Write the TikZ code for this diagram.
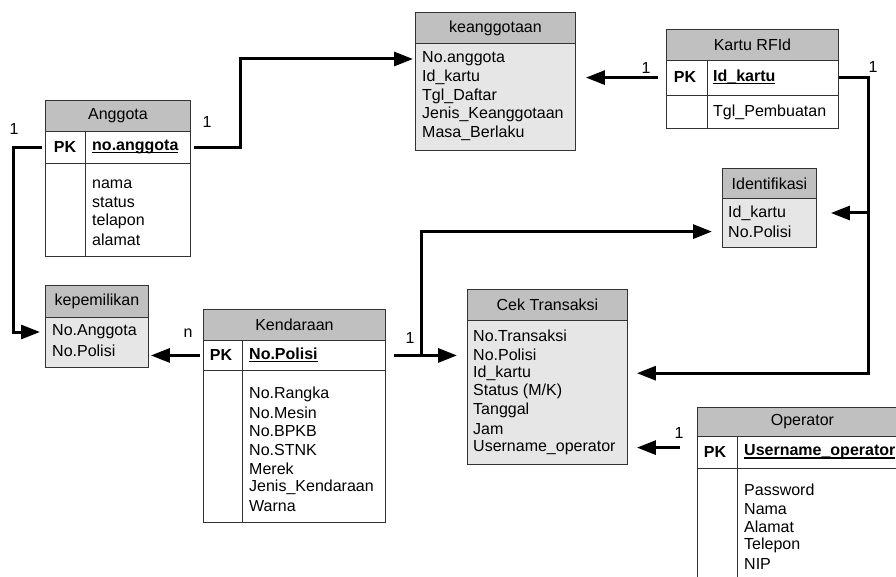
\documentclass[tikz,border=0pt]{standalone}
\usepackage{fontspec}
\setmainfont{Liberation Sans}
\usetikzlibrary{arrows.meta}
\definecolor{hdrgray}{HTML}{C0C0C0}
\definecolor{wkgray}{HTML}{E6E6E6}
\newcommand\erfont{\fontsize{16}{18.6}\selectfont}
\newcommand\keyline[1]{\setbox0\hbox{#1}\rlap{\vrule width\wd0 height -1.3pt depth 2.8pt}\box0}
\tikzset{
  box/.style={draw=black!80, line width=0.9pt},
  hdr/.style={box, fill=hdrgray, anchor=north west, inner sep=0pt, font=\erfont},
  whiterow/.style={box, fill=white, anchor=north west, inner sep=0pt},
  grayrow/.style={box, fill=wkgray, anchor=north west, inner sep=0pt},
  attr/.style={anchor=west, inner sep=0pt, font=\erfont},
  pk/.style={inner sep=0pt, font=\erfont\bfseries},
  rel/.style={line width=3pt, ->},
  card/.style={inner sep=0pt, font=\erfont}
}
\begin{document}
\begin{tikzpicture}[x=1pt,y=-1pt,>={Triangle[length=19pt,width=14pt]}]
	\useasboundingbox (0,0) rectangle (896,577);
	\clip (0,0) rectangle (896,577);
	% Anggota
	\node[hdr, minimum width=145pt, minimum height=31pt] (ag) at (45,100) {Anggota};
	\node[whiterow, minimum width=145pt, minimum height=32pt] (agpk) at (45,131) {};
	\node[whiterow, minimum width=145pt, minimum height=93pt] (agbody) at (45,163) {};
	\draw[box] ([xshift=40pt]agpk.north west) -- ([xshift=40pt]agbody.south west);
	\node[pk] (agpklab) at (65,147) {PK};
	\node[attr, font=\erfont\bfseries] (agkey) at (92,147) {\keyline{no.anggota}};
	\foreach \t [count=\i] in {nama,status,telapon,alamat}
		\node[attr] (ag\i) at (92,{165.4+18.6*\i}) {\t};
	% keanggotaan
	\node[hdr, minimum width=160pt, minimum height=31pt] (kg) at (415,12) {keanggotaan};
	\node[grayrow, minimum width=160pt, minimum height=107pt] (kgbody) at (415,43) {};
	\foreach \t [count=\i] in {No.anggota,Id\_kartu,Tgl\_Daftar,Jenis\_Keanggotaan,Masa\_Berlaku}
		\node[attr] (kg\i) at (422,{40.4+18.6*\i}) {\t};
	% Kartu RFId
	\node[hdr, minimum width=172pt, minimum height=31pt] (kr) at (666,29) {Kartu RFId};
	\node[whiterow, minimum width=172pt, minimum height=35pt] (krpk) at (666,60) {};
	\node[whiterow, minimum width=172pt, minimum height=33pt] (krbody) at (666,95) {};
	\draw[box] ([xshift=41pt]krpk.north west) -- ([xshift=41pt]krbody.south west);
	\node[pk] (krpklab) at (685,77) {PK};
	\node[attr, font=\erfont\bfseries] (krkey) at (713,77) {\keyline{Id\_kartu}};
	\node[attr] (kr1) at (713,112) {Tgl\_Pembuatan};
	% Identifikasi
	\node[hdr, minimum width=94pt, minimum height=30pt] (id) at (722,168) {Identifikasi};
	\node[grayrow, minimum width=94pt, minimum height=49pt] (idbody) at (722,198) {};
	\foreach \t [count=\i] in {Id\_kartu,No.Polisi}
		\node[attr] (id\i) at (728,{194.4+18.6*\i}) {\t};
	% Cek Transaksi
	\node[hdr, minimum width=160pt, minimum height=31pt] (ct) at (467,289) {Cek Transaksi};
	\node[grayrow, minimum width=160pt, minimum height=144pt] (ctbody) at (467,320) {};
	\foreach \t [count=\i] in {No.Transaksi,No.Polisi,Id\_kartu,Status (M/K),Tanggal,Jam,Username\_operator}
		\node[attr] (ct\i) at (473,{317.4+18.6*\i}) {\t};
	% Operator
	\node[hdr, minimum width=210pt, minimum height=29pt] (op) at (697,407) {Operator};
	\node[whiterow, minimum width=210pt, minimum height=32pt] (oppk) at (697,436) {};
	\node[whiterow, minimum width=210pt, minimum height=120pt] (opbody) at (697,468) {};
	\draw[box] ([xshift=40pt]oppk.north west) -- ([xshift=40pt]opbody.south west);
	\node[pk] (oppklab) at (715,452) {PK};
	\node[attr, font=\erfont\bfseries] (opkey) at (744,452) {\keyline{Username\_operator}};
	\foreach \t [count=\i] in {Password,Nama,Alamat,Telepon,NIP}
		\node[attr] (op\i) at (744,{471.4+18.6*\i}) {\t};
	% Kendaraan
	\node[hdr, minimum width=182pt, minimum height=31pt] (kd) at (203,309) {Kendaraan};
	\node[whiterow, minimum width=182pt, minimum height=30pt] (kdpk) at (203,340) {};
	\node[whiterow, minimum width=182pt, minimum height=152pt] (kdbody) at (203,370) {};
	\draw[box] ([xshift=39pt]kdpk.north west) -- ([xshift=39pt]kdbody.south west);
	\node[pk] (kdpklab) at (221,355) {PK};
	\node[attr, font=\erfont\bfseries] (kdkey) at (249,355) {\keyline{No.Polisi}};
	\foreach \t [count=\i] in {No.Rangka,No.Mesin,No.BPKB,No.STNK,Merek,Jenis\_Kendaraan,Warna}
		\node[attr] (kd\i) at (249,{375.4+18.6*\i}) {\t};
	% kepemilikan
	\node[hdr, minimum width=103pt, minimum height=32pt] (kp) at (45,285) {kepemilikan};
	\node[grayrow, minimum width=103pt, minimum height=50pt] (kpbody) at (45,317) {};
	\foreach \t [count=\i] in {No.Anggota,No.Polisi}
		\node[attr] (kp\i) at (52,{313.4+18.6*\i}) {\t};
	% relasi
	\draw[rel] ([xshift=3pt]agpk.east) -- ++(47,0) |- ([xshift=-2pt]kgbody.west |- kg1);
	\draw[rel] ([xshift=-3pt]agpk.west) -- ++(-29,0) |- ([xshift=-5pt]kpbody.west |- kp1);
	\draw[rel] ([xshift=-8pt]krpk.west |- kg2) -- ([xshift=10pt]kgbody.east |- kg2);
	\coordinate (krturn) at ([xshift=30pt]krpk.east);
	\draw[rel] (krpk.east) -- (krturn) |- ([xshift=9pt]ctbody.east |- ct3);
	\draw[rel] (krturn |- id1) -- ([xshift=14pt]idbody.east |- id1);
	\coordinate (kdturn) at ([xshift=36pt]kdpk.east);
	\draw[rel] ([xshift=8pt]kdpk.east) -- ([xshift=-10pt]ctbody.west |- kdpk.east);
	\draw[rel] (kdturn) |- ([xshift=-10pt]idbody.west |- id2);
	\draw[rel] ([xshift=-3pt]kdpk.west) -- ([xshift=2pt]kpbody.east |- kdpk.west);
	\draw[rel] ([xshift=-17pt]oppk.west |- ct7) -- ([xshift=9pt]ctbody.east |- ct7);
	% kardinalitas
	\node[card] (c1) at (207,122) {1};
	\node[card] (c2) at (14,129) {1};
	\node[card] (c3) at (646,68) {1};
	\node[card] (c4) at (873,67) {1};
	\node[card] (c5) at (410,338) {1};
	\node[card] (c6) at (188,333) {n};
	\node[card] (c7) at (679,433) {1};
\end{tikzpicture}
\end{document}
